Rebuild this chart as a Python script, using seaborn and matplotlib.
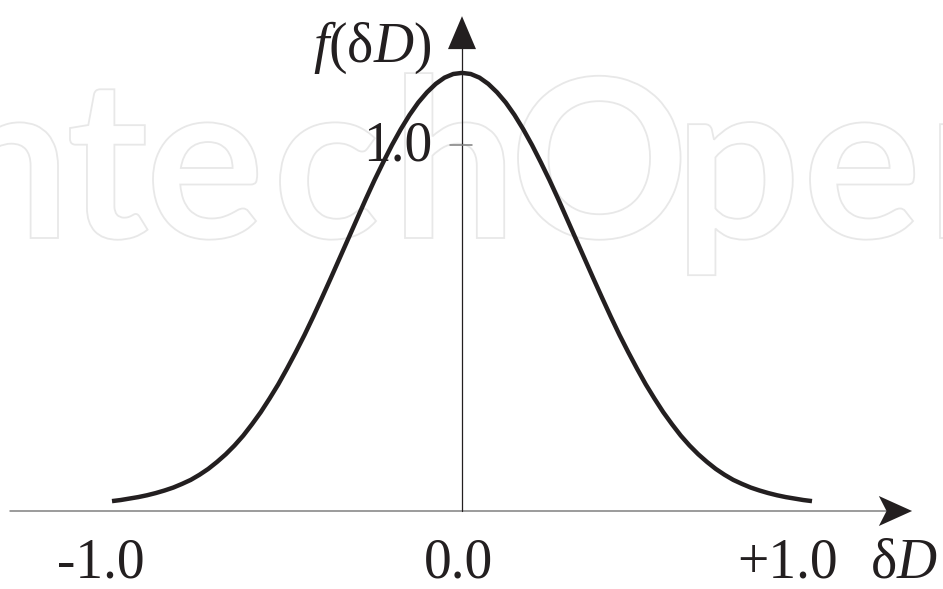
import numpy as np
import pandas as pd
import seaborn as sns
import matplotlib
matplotlib.use("Agg")
import matplotlib.pyplot as plt
from matplotlib.textpath import TextPath
from matplotlib.patches import PathPatch, Polygon
from matplotlib.font_manager import FontProperties
from matplotlib.transforms import Affine2D

sns.set_theme(style="white")
plt.rcParams["font.family"] = ["Liberation Serif", "DejaVu Serif"]
plt.rcParams["mathtext.fontset"] = "custom"
plt.rcParams["mathtext.rm"] = "Liberation Serif"
plt.rcParams["mathtext.it"] = "Liberation Serif:italic"

# density for delta D >= 0 (the curve is symmetric about 0)
half_delta_d = [0.000, 0.025, 0.050, 0.075, 0.100, 0.125, 0.150, 0.175, 0.200, 0.225,
                0.250, 0.275, 0.300, 0.325, 0.350, 0.375, 0.400, 0.425, 0.450, 0.475,
                0.500, 0.525, 0.550, 0.575, 0.600, 0.625, 0.650, 0.675, 0.700, 0.725,
                0.750, 0.775, 0.800, 0.825, 0.850, 0.875, 0.900, 0.925, 0.950, 0.975, 1.000]
half_density = [1.197, 1.194, 1.184, 1.167, 1.144, 1.116, 1.082, 1.043, 1.000, 0.953,
                0.904, 0.852, 0.798, 0.744, 0.690, 0.636, 0.583, 0.531, 0.481, 0.434,
                0.389, 0.346, 0.307, 0.270, 0.237, 0.206, 0.179, 0.155, 0.134, 0.115,
                0.099, 0.085, 0.074, 0.064, 0.056, 0.049, 0.043, 0.038, 0.034, 0.030, 0.027]
x_tick_values = [-1.0, 0.0, 1.0]
x_tick_labels = ["-1.0", "0.0", "+1.0"]
y_tick_value = 1.0
y_tick_label = "1.0"

delta_d = [-v for v in half_delta_d[:0:-1]] + half_delta_d
density = half_density[:0:-1] + half_density

ink = "#231f20"
W, H = 943, 589
fig = plt.figure(figsize=(W / 100, H / 100), dpi=100)

# faint outlined publisher mark behind the plot
bg = fig.add_axes([0, 0, 1, 1], zorder=0)
bg.set_xlim(0, W)
bg.set_ylim(0, H)
bg.axis("off")
fp = FontProperties(family="Lato", weight="bold")
probe = TextPath((0, 0), "O", size=100, prop=fp)
size = 100 * 164 / probe.get_extents().height
base = H - 238
marks = [("n", None, 58), ("t", 70, None), ("e", 153, None), ("c", 280, None),
         ("h", 405, None), ("O", 518, None), ("p", 688, None), ("e", 810, None),
         ("n", 940, None)]
for ch, left, right in marks:
    tp = TextPath((0, 0), ch, size=size, prop=fp)
    ext = tp.get_extents()
    x0 = left - ext.x0 if left is not None else right - ext.x1
    path = Affine2D().translate(x0, base).transform_path(tp)
    bg.add_patch(PathPatch(path, facecolor="none", edgecolor="#e8e8e8", lw=1.3))

# main drawing area, unit scales 350 px (x) and 366 px (y)
ax = fig.add_axes([0, 0, 1, 1], zorder=1)
ax.patch.set_alpha(0)
ax.set_xlim(-462 / 350, (W - 462) / 350)
ax.set_ylim(-(H - 511) / 366, 511 / 366)
ax.axis("off")

df = pd.DataFrame({"dD": delta_d, "f": density})
sns.lineplot(data=df, x="dD", y="f", ax=ax, color=ink, lw=3.2, sort=True,
             solid_capstyle="butt", solid_joinstyle="round")

# axes with arrowheads
ax.plot([-1.291, 1.215], [0, 0], color="#808080", lw=1.1, zorder=2)
ax.add_patch(Polygon([(1.286, 0), (1.191, 0.041), (1.213, 0), (1.191, -0.041)],
                     closed=True, color=ink, lw=0, zorder=3))
ax.plot([0, 0], [0, 1.27], color=ink, lw=0.9, zorder=2)
ax.add_patch(Polygon([(0, 1.352), (-0.040, 1.262), (0.040, 1.262)],
                     closed=True, color=ink, lw=0, zorder=3))

# tick on the vertical axis
ax.plot([-0.034, 0.029], [y_tick_value, y_tick_value], color="#808080", lw=1.1)
ax.text(-0.086, y_tick_value - 0.041, y_tick_label, fontsize=40, color=ink,
        ha="right", va="baseline")

# labels under the horizontal axis
label_y = -0.181
label_offsets = [-0.031, -0.009, -0.071]
for v, lab, off in zip(x_tick_values, x_tick_labels, label_offsets):
    ax.text(v + off, label_y, lab, fontsize=40, color=ink, ha="center", va="baseline")

ax.text(1.263, label_y, "δ$D$", fontsize=40, color=ink, ha="center", va="baseline")
ax.text(-0.426, 1.227, "$f$(δ$D$)", fontsize=40, color=ink, ha="left", va="baseline")

fig.savefig("out.png", dpi=100, facecolor="white")
